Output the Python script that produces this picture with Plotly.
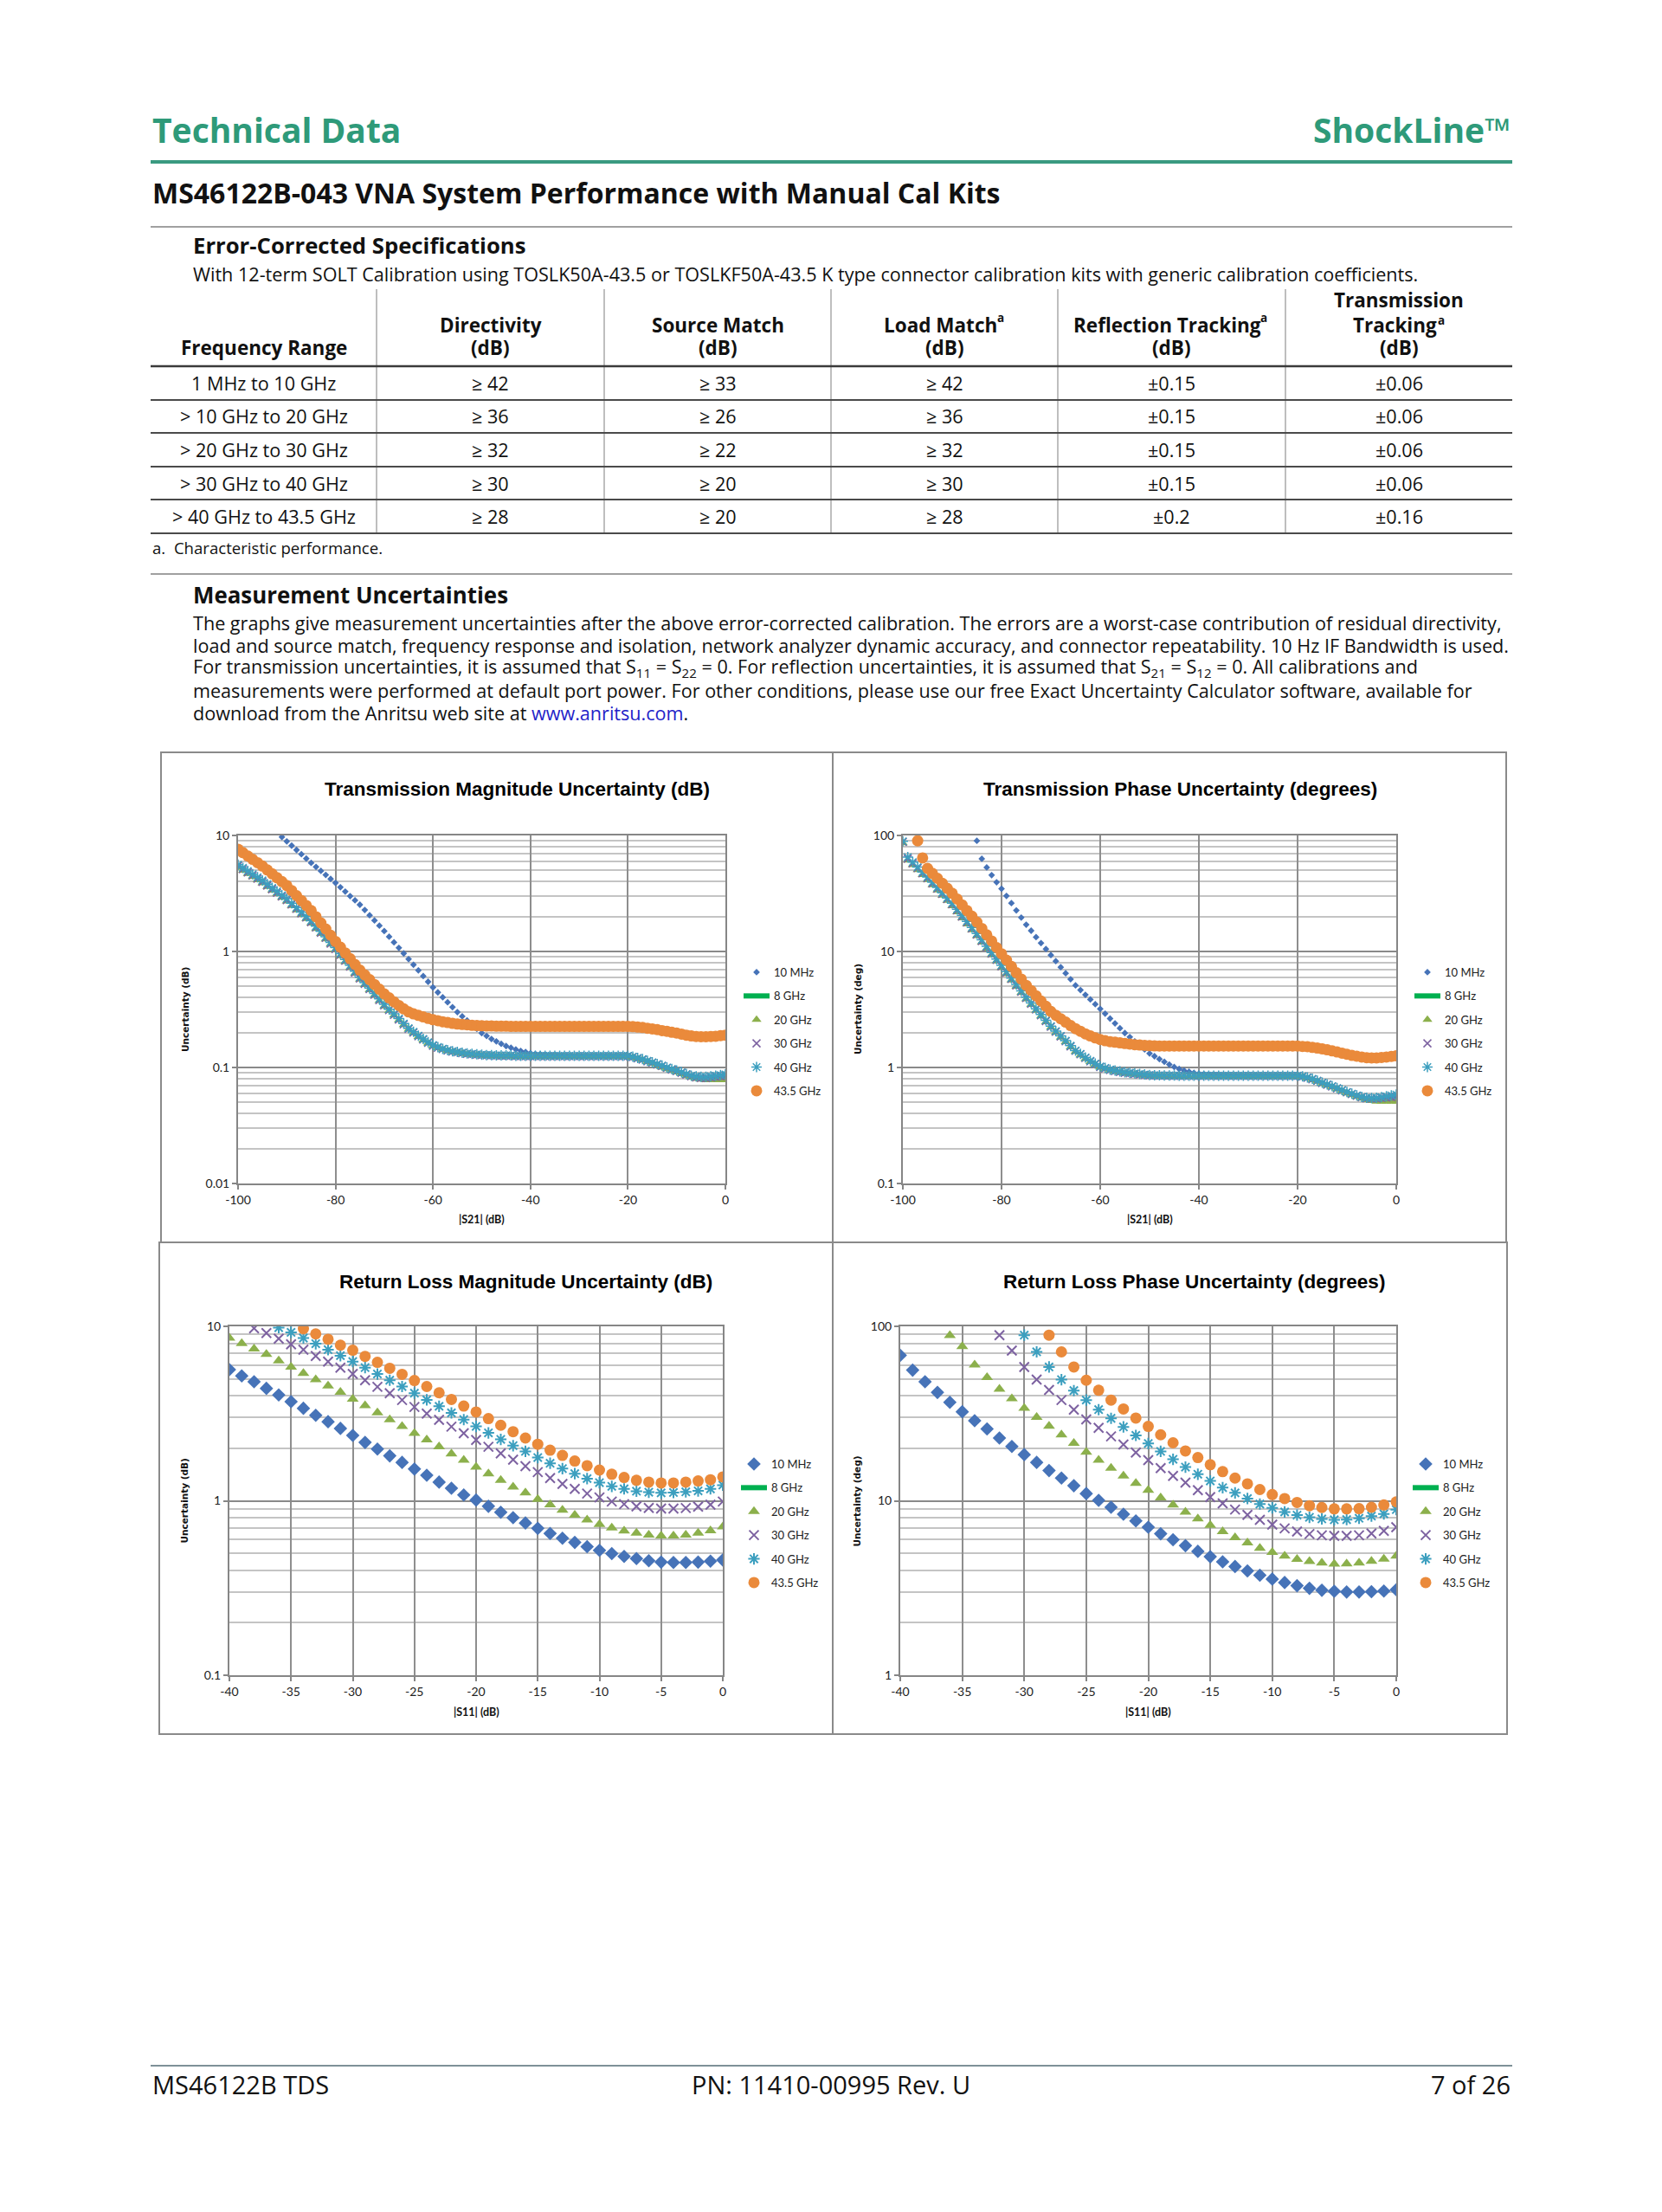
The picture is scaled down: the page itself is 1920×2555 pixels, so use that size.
import plotly.graph_objects as go

W, H = 1920, 2555          # page size
OFF = 8                    # browser body margin
FW, FH = W - 2 * OFF, H - 2 * OFF   # figure size so that the page is exactly W x H

# ---------------- data ----------------
freq_labels = ["10 MHz", "8 GHz", "20 GHz", "30 GHz", "40 GHz", "43.5 GHz"]

trans_xticks = [-100, -80, -60, -40, -20, 0]
refl_xticks = [-40, -35, -30, -25, -20, -15, -10, -5, 0]

# Transmission magnitude uncertainty (dB) vs |S21| (dB)
tm_x = list(range(-100, 1))
tm_x_10mhz = list(range(-91, 1))
tm_10mhz = [9.70, 8.90, 8.17, 7.50, 6.89, 6.32, 5.80,
            5.36, 4.95, 4.57, 4.22, 3.90,
            3.58, 3.28, 3.00, 2.76, 2.53,
            2.28, 2.05, 1.85, 1.67, 1.50,
            1.34, 1.20, 1.075, 0.962, 0.860,
            0.769, 0.687, 0.614, 0.548, 0.490,
            0.444, 0.403, 0.365, 0.331, 0.300,
            0.276, 0.254, 0.234, 0.215, 0.198,
            0.187, 0.176, 0.168, 0.160, 0.153,
            0.148, 0.143, 0.139, 0.136, 0.133,
            0.131, 0.130, 0.129, 0.128, 0.128, 0.127, 0.127, 0.126, 0.126, 0.126,
            0.126, 0.126, 0.126, 0.126, 0.126, 0.126, 0.126, 0.126, 0.126,
            0.125, 0.123, 0.120, 0.117, 0.113, 0.110, 0.106, 0.103, 0.099, 0.096, 0.093,
            0.090, 0.087, 0.084, 0.082, 0.081, 0.081, 0.082, 0.082, 0.083, 0.084]
tm_20ghz = [5.30, 4.98, 4.68, 4.40, 4.13, 3.88,
            3.61, 3.36, 3.13, 2.91, 2.71,
            2.48, 2.27, 2.08, 1.91, 1.75,
            1.57, 1.42, 1.28, 1.15, 1.03,
            0.915, 0.815, 0.725, 0.645, 0.574,
            0.517, 0.465, 0.418, 0.376, 0.338,
            0.308, 0.281, 0.256, 0.233, 0.213,
            0.198, 0.184, 0.172, 0.162, 0.153,
            0.147, 0.143, 0.139, 0.136, 0.134, 0.132, 0.130, 0.129, 0.128, 0.127,
            0.126, 0.126, 0.125, 0.125, 0.125, 0.125, 0.124, 0.124, 0.124, 0.124,
            0.124, 0.124, 0.124, 0.124, 0.124, 0.124, 0.124, 0.124, 0.124, 0.124,
            0.124, 0.124, 0.124, 0.124, 0.124, 0.124, 0.124, 0.124, 0.124,
            0.124, 0.122, 0.119, 0.116, 0.112, 0.108, 0.104, 0.100, 0.097, 0.094,
            0.091, 0.088, 0.085, 0.082, 0.080, 0.079, 0.078, 0.078, 0.078, 0.078, 0.078]
tm_30ghz = [5.45, 5.11, 4.80, 4.51, 4.24, 3.98,
            3.70, 3.44, 3.20, 2.98, 2.77,
            2.54, 2.33, 2.13, 1.96, 1.79,
            1.61, 1.45, 1.31, 1.17, 1.05,
            0.935, 0.832, 0.740, 0.658, 0.585,
            0.526, 0.473, 0.424, 0.381, 0.343,
            0.312, 0.284, 0.259, 0.235, 0.215,
            0.200, 0.186, 0.174, 0.163, 0.154,
            0.148, 0.144, 0.140, 0.137, 0.135, 0.133, 0.131, 0.130, 0.129, 0.128,
            0.127, 0.127, 0.126, 0.126, 0.126, 0.126, 0.125, 0.125, 0.125, 0.125,
            0.125, 0.125, 0.125, 0.125, 0.125, 0.125, 0.125, 0.125, 0.125, 0.125,
            0.125, 0.125, 0.125, 0.125, 0.125, 0.125, 0.125, 0.125, 0.125,
            0.125, 0.123, 0.120, 0.117, 0.113, 0.110, 0.106, 0.103, 0.099, 0.096,
            0.093, 0.090, 0.087, 0.084, 0.082, 0.081, 0.081, 0.082, 0.083, 0.084, 0.085]
tm_40ghz = [5.60, 5.26, 4.94, 4.64, 4.36, 4.10,
            3.81, 3.54, 3.30, 3.06, 2.85,
            2.61, 2.39, 2.19, 2.01, 1.84,
            1.65, 1.49, 1.34, 1.20, 1.08,
            0.960, 0.854, 0.759, 0.675, 0.600,
            0.539, 0.484, 0.434, 0.390, 0.350,
            0.318, 0.290, 0.264, 0.239, 0.218,
            0.203, 0.188, 0.176, 0.165, 0.156,
            0.150, 0.145, 0.141, 0.138, 0.136, 0.134, 0.132, 0.131, 0.130, 0.129,
            0.128, 0.128, 0.127, 0.127, 0.127, 0.127, 0.126, 0.126, 0.126, 0.126,
            0.126, 0.126, 0.126, 0.126, 0.126, 0.126, 0.126, 0.126, 0.126, 0.126,
            0.126, 0.126, 0.126, 0.126, 0.126, 0.126, 0.126, 0.126, 0.126,
            0.126, 0.124, 0.121, 0.118, 0.114, 0.111, 0.107, 0.104, 0.100, 0.097,
            0.094, 0.091, 0.088, 0.085, 0.084, 0.083, 0.083, 0.084, 0.085, 0.086, 0.087]
tm_435ghz = [7.60, 7.11, 6.65, 6.23, 5.83, 5.45,
             5.04, 4.67, 4.32, 4.00, 3.70,
             3.35, 3.03, 2.75, 2.49, 2.25,
             1.99, 1.76, 1.56, 1.38, 1.22,
             1.09, 0.971, 0.866, 0.773, 0.690,
             0.628, 0.571, 0.519, 0.473, 0.430,
             0.398, 0.368, 0.342, 0.320, 0.301,
             0.290, 0.281, 0.273, 0.265, 0.258,
             0.253, 0.248, 0.244, 0.240, 0.237, 0.235, 0.233, 0.231, 0.230, 0.229,
             0.228, 0.228, 0.227, 0.227, 0.227, 0.226, 0.226, 0.226, 0.226, 0.226,
             0.226, 0.226, 0.226, 0.226, 0.226, 0.226, 0.226, 0.226, 0.226, 0.226,
             0.226, 0.226, 0.226, 0.226, 0.226, 0.226, 0.226, 0.226, 0.226,
             0.226, 0.225, 0.223, 0.221, 0.218, 0.215, 0.212, 0.208, 0.205, 0.201,
             0.198, 0.194, 0.190, 0.187, 0.185, 0.184, 0.184, 0.185, 0.186, 0.188, 0.190]

# Transmission phase uncertainty (degrees) vs |S21| (dB)
tp_x = list(range(-100, 1))
tp_x_10mhz = list(range(-85, 1))
tp_x_435ghz = list(range(-97, 1))
tp_10mhz = [90, 63, 53, 45.5, 39.5, 34.7,
            30.1, 26.1, 22.6, 19.6, 17.0,
            15.1, 13.3, 11.8, 10.5, 9.30,
            8.25, 7.32, 6.49, 5.76, 5.10,
            4.65, 4.23, 3.86, 3.51, 3.20,
            2.91, 2.64, 2.40, 2.18, 1.98,
            1.83, 1.68, 1.55, 1.43, 1.32,
            1.25, 1.18, 1.12, 1.06, 1.01,
            0.97, 0.94, 0.92, 0.90, 0.885,
            0.875, 0.868, 0.862, 0.858, 0.855, 0.853, 0.852, 0.851, 0.850, 0.850,
            0.850, 0.850, 0.850, 0.850, 0.850, 0.850, 0.850, 0.850, 0.850,
            0.850, 0.835, 0.815, 0.790, 0.765, 0.735, 0.710, 0.685, 0.660, 0.635, 0.610,
            0.590, 0.570, 0.552, 0.540, 0.535, 0.535, 0.540, 0.545, 0.550, 0.555]
tp_20ghz = [86, 61, 55.8, 50.6, 45.8, 41.5,
            37.4, 33.7, 30.4, 27.4, 24.7,
            21.9, 19.4, 17.2, 15.3, 13.6,
            12.0, 10.6, 9.33, 8.23, 7.26,
            6.41, 5.65, 4.98, 4.40, 3.89,
            3.47, 3.10, 2.77, 2.47, 2.21,
            2.00, 1.82, 1.66, 1.50, 1.37,
            1.28, 1.19, 1.12, 1.06, 1.00,
            0.970, 0.940, 0.920, 0.905, 0.890, 0.880, 0.870, 0.860, 0.852, 0.846,
            0.843, 0.841, 0.840, 0.839, 0.838, 0.837, 0.836, 0.836, 0.836, 0.836,
            0.836, 0.836, 0.836, 0.836, 0.836, 0.836, 0.836, 0.836, 0.836, 0.836,
            0.836, 0.836, 0.836, 0.836, 0.836, 0.836, 0.836, 0.836, 0.836,
            0.836, 0.826, 0.806, 0.780, 0.755, 0.725, 0.700, 0.675, 0.650, 0.625,
            0.600, 0.580, 0.560, 0.540, 0.525, 0.515, 0.510, 0.510, 0.510, 0.510, 0.510]
tp_30ghz = [88, 63, 57.5, 52.2, 47.2, 42.8,
            38.6, 34.8, 31.4, 28.3, 25.5,
            22.6, 20.0, 17.8, 15.8, 14.0,
            12.3, 10.9, 9.58, 8.45, 7.45,
            6.57, 5.79, 5.10, 4.50, 3.97,
            3.54, 3.16, 2.82, 2.51, 2.24,
            2.03, 1.85, 1.68, 1.52, 1.39,
            1.30, 1.21, 1.13, 1.07, 1.01,
            0.980, 0.950, 0.930, 0.915, 0.900, 0.890, 0.880, 0.870, 0.860, 0.855,
            0.852, 0.850, 0.849, 0.848, 0.847, 0.846, 0.845, 0.845, 0.845, 0.845,
            0.845, 0.845, 0.845, 0.845, 0.845, 0.845, 0.845, 0.845, 0.845, 0.845,
            0.845, 0.845, 0.845, 0.845, 0.845, 0.845, 0.845, 0.845, 0.845,
            0.845, 0.835, 0.815, 0.790, 0.765, 0.735, 0.710, 0.685, 0.660, 0.635,
            0.610, 0.590, 0.570, 0.553, 0.542, 0.538, 0.540, 0.545, 0.550, 0.555, 0.560]
tp_40ghz = [89, 65, 58.9, 53.4, 48.3, 43.8,
            39.5, 35.6, 32.1, 28.9, 26.1,
            23.1, 20.5, 18.2, 16.1, 14.3,
            12.6, 11.1, 9.78, 8.62, 7.60,
            6.70, 5.90, 5.20, 4.58, 4.04,
            3.60, 3.21, 2.86, 2.55, 2.27,
            2.06, 1.87, 1.70, 1.54, 1.40,
            1.31, 1.22, 1.14, 1.08, 1.02,
            0.990, 0.960, 0.940, 0.925, 0.910, 0.900, 0.890, 0.880, 0.870, 0.860,
            0.857, 0.855, 0.854, 0.853, 0.852, 0.851, 0.850, 0.850, 0.850, 0.850,
            0.850, 0.850, 0.850, 0.850, 0.850, 0.850, 0.850, 0.850, 0.850, 0.850,
            0.850, 0.850, 0.850, 0.850, 0.850, 0.850, 0.850, 0.850, 0.850,
            0.850, 0.840, 0.820, 0.800, 0.770, 0.740, 0.715, 0.690, 0.665, 0.640,
            0.615, 0.595, 0.575, 0.558, 0.547, 0.545, 0.548, 0.555, 0.565, 0.575, 0.585]
tp_435ghz = [90, 64, 52,
             47.1, 42.7, 38.7, 35.0, 31.7,
             28.3, 25.2, 22.5, 20.1, 17.9,
             15.8, 13.9, 12.3, 10.8, 9.55,
             8.42, 7.43, 6.55, 5.78, 5.10,
             4.60, 4.15, 3.74, 3.37, 3.04,
             2.82, 2.63, 2.46, 2.30, 2.16,
             2.05, 1.95, 1.87, 1.80, 1.74,
             1.70, 1.67, 1.65, 1.63, 1.61,
             1.59, 1.57, 1.56, 1.55, 1.54,
             1.535, 1.533, 1.531, 1.530, 1.530, 1.530, 1.530, 1.530, 1.530, 1.530,
             1.530, 1.530, 1.530, 1.530, 1.530, 1.530, 1.530, 1.530, 1.530, 1.530,
             1.530, 1.530, 1.530, 1.530, 1.530, 1.530, 1.530, 1.530, 1.530,
             1.530, 1.520, 1.510, 1.490, 1.470, 1.445, 1.420, 1.390, 1.360, 1.330,
             1.300, 1.270, 1.250, 1.230, 1.215, 1.210, 1.210, 1.220, 1.230, 1.245, 1.260]

# Return loss magnitude uncertainty (dB) vs |S11| (dB)
rm_x = list(range(-40, 1))
rm_x_30ghz = list(range(-38, 1))
rm_x_40ghz = list(range(-36, 1))
rm_x_435ghz = list(range(-34, 1))
rm_10mhz = [5.65, 5.20, 4.81, 4.41, 4.04, 3.70, 3.39, 3.09, 2.84, 2.60,
            2.37, 2.16, 1.98, 1.81, 1.66, 1.52, 1.40, 1.28, 1.18, 1.08,
            1.01, 0.93, 0.86, 0.80, 0.746, 0.695, 0.65, 0.61, 0.577, 0.546,
            0.52, 0.498, 0.48, 0.466, 0.453, 0.445, 0.443, 0.443, 0.445, 0.451,
            0.458]
rm_20ghz = [8.57, 7.98, 7.44, 6.91, 6.35, 5.85, 5.38, 4.95, 4.56, 4.19,
            3.83, 3.51, 3.20, 2.92, 2.67, 2.44, 2.24, 2.04, 1.86, 1.71,
            1.56, 1.43, 1.31, 1.20, 1.11, 1.02, 0.95, 0.885, 0.828, 0.778,
            0.733, 0.70, 0.672, 0.653, 0.637, 0.63, 0.63, 0.637, 0.653, 0.674,
            0.71]
rm_30ghz = [9.75, 9.16, 8.5, 7.89, 7.35, 6.76, 6.28, 5.80, 5.33, 4.91,
            4.50, 4.14, 3.78, 3.45, 3.16, 2.91, 2.66, 2.44, 2.23, 2.04,
            1.87, 1.72, 1.58, 1.46, 1.35, 1.25, 1.17, 1.10, 1.045, 0.99,
            0.957, 0.929, 0.91, 0.903, 0.903, 0.909, 0.925, 0.949, 0.99]
rm_40ghz = [9.83, 9.24, 8.57, 7.95, 7.35, 6.79, 6.28, 5.80, 5.33, 4.91,
            4.52, 4.14, 3.79, 3.48, 3.19, 2.92, 2.67, 2.45, 2.25, 2.07,
            1.92, 1.77, 1.64, 1.53, 1.43, 1.34, 1.27, 1.21, 1.17, 1.135,
            1.12, 1.11, 1.115, 1.125, 1.14, 1.17, 1.23]
rm_435ghz = [9.7, 9.05, 8.43, 7.8, 7.3, 6.73, 6.22, 5.75, 5.31, 4.89,
             4.52, 4.16, 3.81, 3.49, 3.23, 2.96, 2.71, 2.49, 2.29, 2.11,
             1.95, 1.82, 1.69, 1.59, 1.50, 1.42, 1.36, 1.31, 1.28, 1.265,
             1.265, 1.28, 1.30, 1.32, 1.37]

# Return loss phase uncertainty (degrees) vs |S11| (dB)
rp_x = list(range(-40, 1))
rp_x_20ghz = list(range(-36, 1))
rp_x_30ghz = list(range(-32, 1))
rp_x_40ghz = list(range(-30, 1))
rp_x_435ghz = list(range(-28, 1))
rp_10mhz = [68.2, 56.1, 48.1, 41.8, 36.7, 32.4, 28.8, 25.8, 22.9, 20.5,
            18.4, 16.6, 14.9, 13.5, 12.2, 11.0, 10.05, 9.18, 8.38, 7.67,
            7.06, 6.47, 5.98, 5.53, 5.13, 4.78, 4.47, 4.20, 3.96, 3.74,
            3.56, 3.40, 3.26, 3.15, 3.07, 3.03, 3.00, 3.00, 3.01, 3.04,
            3.09]
rp_20ghz = [88.7, 76.6, 60.2, 51.0, 43.7, 38.5, 34.0, 30.1, 26.8, 23.9,
            21.4, 19.0, 17.1, 15.4, 13.9, 12.6, 11.5, 10.4, 9.46, 8.63,
            7.88, 7.25, 6.67, 6.16, 5.74, 5.35, 5.07, 4.82, 4.62, 4.49,
            4.40, 4.34, 4.36, 4.40, 4.51, 4.64, 4.82]
rp_30ghz = [89, 72.6, 58.5, 49.5, 43.2, 37.8, 33.3, 29.3, 26.2, 23.4,
            21.0, 18.9, 17.1, 15.4, 13.9, 12.7, 11.5, 10.5, 9.66, 8.91,
            8.31, 7.78, 7.31, 6.95, 6.67, 6.45, 6.34, 6.29, 6.29, 6.34,
            6.50, 6.72, 7.06]
rp_40ghz = [89, 71.4, 58.5, 49.5, 42.8, 37.8, 33.3, 29.7, 26.5, 23.7,
            21.3, 19.2, 17.3, 15.6, 14.2, 13.0, 11.9, 11.1, 10.3, 9.58,
            9.11, 8.63, 8.28, 8.04, 7.87, 7.78, 7.80, 7.94, 8.17, 8.41,
            8.90]
rp_435ghz = [89, 71.4, 58.5, 49.1, 43.0, 37.8, 33.6, 29.8, 26.7, 23.9,
             21.5, 19.3, 17.7, 16.1, 14.7, 13.5, 12.5, 11.6, 10.85, 10.3,
             9.78, 9.37, 9.15, 8.99, 8.99, 9.02, 9.18, 9.46, 9.86]

# Specification table (header lines listed top to bottom; "a" marks a footnote reference)
table_columns = [[("Frequency Range", "")],
                 [("Directivity", ""), ("(dB)", "")],
                 [("Source Match", ""), ("(dB)", "")],
                 [("Load Match", "a"), ("(dB)", "")],
                 [("Reflection Tracking", "a"), ("(dB)", "")],
                 [("Transmission", ""), ("Tracking", "a"), ("(dB)", "")]]
freq_ranges = ["1 MHz to 10 GHz", "> 10 GHz to 20 GHz", "> 20 GHz to 30 GHz",
               "> 30 GHz to 40 GHz", "> 40 GHz to 43.5 GHz"]
directivity = ["≥ 42", "≥ 36", "≥ 32", "≥ 30", "≥ 28"]
source_match = ["≥ 33", "≥ 26", "≥ 22", "≥ 20", "≥ 20"]
load_match = ["≥ 42", "≥ 36", "≥ 32", "≥ 30", "≥ 28"]
refl_tracking = ["±0.15", "±0.15", "±0.15", "±0.15", "±0.2"]
trans_tracking = ["±0.06", "±0.06", "±0.06", "±0.06", "±0.16"]

# ---------------- helpers (page pixel -> paper) ----------------
def PX(x):
    return (x - OFF) / FW


def PY(y):
    return 1 - (y - OFF) / FH


FONT = "Open Sans"
GREEN_HDR = "#2E9A79"
annotations = []
shapes = []


def text(x, y, s, size, color="#111111", anchor="left", bold=False, family=FONT, yanchor="middle", angle=0):
    annotations.append(dict(x=PX(x), y=PY(y), xref="paper", yref="paper", text=(f"<b>{s}</b>" if bold else s),
                            showarrow=False, xanchor=anchor, yanchor=yanchor, textangle=angle,
                            font=dict(family=family, size=size, color=color)))


def hline(x0, x1, y, color, width):
    shapes.append(dict(type="line", xref="paper", yref="paper", x0=PX(x0), x1=PX(x1), y0=PY(y), y1=PY(y),
                       line=dict(color=color, width=width)))


def vline(x, y0, y1, color, width):
    shapes.append(dict(type="line", xref="paper", yref="paper", x0=PX(x), x1=PX(x), y0=PY(y0), y1=PY(y1),
                       line=dict(color=color, width=width)))


def rect(x0, y0, x1, y1, color, width):
    shapes.append(dict(type="rect", xref="paper", yref="paper", x0=PX(x0), x1=PX(x1), y0=PY(y1), y1=PY(y0),
                       line=dict(color=color, width=width), fillcolor="rgba(0,0,0,0)"))


# ---------------- page header / text ----------------
L, R = 174, 1747
text(L, 149, "Technical Data", 39, color=GREEN_HDR, bold=True)
text(R, 149, "ShockLine™", 39, color=GREEN_HDR, bold=True, anchor="right")
hline(L, R, 187, "#3A9A80", 4)
text(L, 223, "MS46122B-043 VNA System Performance with Manual Cal Kits", 32, bold=True)
hline(L, R, 262, "#A0A0A0", 2)
text(221, 283, "Error-Corrected Specifications", 25.7, bold=True)
text(221, 316, "With 12-term SOLT Calibration using TOSLK50A-43.5 or TOSLKF50A-43.5 K type connector "
               "calibration kits with generic calibration coefficients.", 21.6)

# table
col_edges = [L, 435, 698, 960, 1222, 1485, R]
header_line_y = [401, 375, 347]          # bottom line first
half_width = {"Load Match": 63, "Reflection Tracking": 104, "Tracking": 47}
for ci, lines in enumerate(table_columns):
    cx = (col_edges[ci] + col_edges[ci + 1]) / 2
    for k, (s, note) in enumerate(reversed(lines)):
        y = header_line_y[k]
        if note:
            tx = cx - 5
            text(tx, y, s, 22.5, bold=True, anchor="center")
            dy = 5 if len(lines) == 3 else 8
            text(tx + half_width[s] + 1, y - dy, note, 13.5, bold=True, anchor="left")
        else:
            text(cx, y, s, 22.5, bold=True, anchor="center")
row_lines = [423, 462, 500, 539, 577, 616]
table_cols = [freq_ranges, directivity, source_match, load_match, refl_tracking, trans_tracking]
for ri in range(len(freq_ranges)):
    cy = (row_lines[ri] + row_lines[ri + 1]) / 2
    for ci, col in enumerate(table_cols):
        cx = (col_edges[ci] + col_edges[ci + 1]) / 2
        text(cx, cy, col[ri], 21.6, anchor="center")
for x in col_edges[1:-1]:
    vline(x, 334, 616, "#A8A8A8", 1.5)
hline(L, R, 423, "#3A3A3A", 2.5)
for y in row_lines[1:]:
    hline(L, R, y, "#4A4A4A", 2)
text(L, 632, "a.  Characteristic performance.", 18.6)

hline(L, R, 663, "#A0A0A0", 2)
text(221, 687, "Measurement Uncertainties", 25.9, bold=True)
para = [
    "The graphs give measurement uncertainties after the above error-corrected calibration. The errors are a "
    "worst-case contribution of residual directivity,",
    "load and source match, frequency response and isolation, network analyzer dynamic accuracy, and connector "
    "repeatability. 10 Hz IF Bandwidth is used.",
    "For transmission uncertainties, it is assumed that S<sub>11</sub> = S<sub>22</sub> = 0. For reflection "
    "uncertainties, it is assumed that S<sub>21</sub> = S<sub>12</sub> = 0. All calibrations and",
    "measurements were performed at default port power. For other conditions, please use our free Exact "
    "Uncertainty Calculator software, available for",
    "download from the Anritsu web site at <span style='color:#2323C8'>www.anritsu.com</span>.",
]
for i, s in enumerate(para):
    text(221, 719 + 26 * i, s, 21.6)

# footer
hline(L, R, 2386, "#7E9098", 2)
text(L, 2407, "MS46122B TDS", 29)
text(960, 2407, "PN: 11410-00995 Rev. U", 29, anchor="center")
text(R, 2407, "7 of 26", 29, anchor="right")

# chart boxes
rect(186, 869, 962, 1435, "#8A8A8A", 2)
rect(962, 869, 1740, 1435, "#8A8A8A", 2)
rect(184, 1435, 962, 2003, "#8A8A8A", 2)
rect(962, 1435, 1741, 2003, "#8A8A8A", 2)

# ---------------- charts ----------------
BLUE, LGREEN, GREEN, PURPLE, TEAL, ORANGE = "#4673B8", "#00B050", "#8CB04C", "#7D62A1", "#3C9FBF", "#EA8A3B"
styles = {"10 MHz": ("diamond", BLUE), "20 GHz": ("triangle-up", GREEN), "30 GHz": ("x-thin-open", PURPLE),
          "40 GHz": ("asterisk-open", TEAL), "43.5 GHz": ("circle", ORANGE)}
dense_sizes = {"10 MHz": 6, "20 GHz": 10, "30 GHz": 9, "40 GHz": 10, "43.5 GHz": 13}
sparse_sizes = {"10 MHz": 12, "20 GHz": 12, "30 GHz": 11, "40 GHz": 11, "43.5 GHz": 13}

charts = [
    dict(title="Transmission Magnitude Uncertainty (dB)", ytitle="Uncertainty (dB)", xtitle="|S21| (dB)",
         px=(275, 838), py=(965, 1367), xr=(-100, 0), yr=(-2, 1), xt=trans_xticks, dense=True,
         tpos=(597, 911), ytx=214, xty=1408, leg=(854, 1108),
         series=[(tm_x_10mhz, tm_10mhz), None, (tm_x, tm_20ghz), (tm_x, tm_30ghz), (tm_x, tm_40ghz),
                 (tm_x, tm_435ghz)]),
    dict(title="Transmission Phase Uncertainty (degrees)", ytitle="Uncertainty (deg)", xtitle="|S21| (dB)",
         px=(1043, 1613), py=(965, 1367), xr=(-100, 0), yr=(-1, 2), xt=trans_xticks, dense=True,
         tpos=(1363, 911), ytx=991, xty=1408, leg=(1629, 1108),
         series=[(tp_x_10mhz, tp_10mhz), None, (tp_x, tp_20ghz), (tp_x, tp_30ghz), (tp_x, tp_40ghz),
                 (tp_x_435ghz, tp_435ghz)]),
    dict(title="Return Loss Magnitude Uncertainty (dB)", ytitle="Uncertainty (dB)", xtitle="|S11| (dB)",
         px=(265, 835), py=(1532, 1935), xr=(-40, 0), yr=(-1, 1), xt=refl_xticks, dense=False,
         tpos=(607, 1480), ytx=212, xty=1977, leg=(851, 1676),
         series=[(rm_x, rm_10mhz), None, (rm_x, rm_20ghz), (rm_x_30ghz, rm_30ghz), (rm_x_40ghz, rm_40ghz),
                 (rm_x_435ghz, rm_435ghz)]),
    dict(title="Return Loss Phase Uncertainty (degrees)", ytitle="Uncertainty (deg)", xtitle="|S11| (dB)",
         px=(1040, 1613), py=(1532, 1935), xr=(-40, 0), yr=(0, 2), xt=refl_xticks, dense=False,
         tpos=(1379, 1480), ytx=989, xty=1977, leg=(1627, 1676),
         series=[(rp_x, rp_10mhz), None, (rp_x_20ghz, rp_20ghz), (rp_x_30ghz, rp_30ghz), (rp_x_40ghz, rp_40ghz),
                 (rp_x_435ghz, rp_435ghz)]),
]

fig = go.Figure()
layout_axes = {}
legends = {}
for n, c in enumerate(charts, start=1):
    sfx = "" if n == 1 else str(n)
    xa, ya, lg = f"x{sfx}", f"y{sfx}", f"legend{sfx}"
    sizes = dense_sizes if c["dense"] else sparse_sizes
    olw = 1.5 if c["dense"] else 2
    for i, name in enumerate(freq_labels):
        if c["series"][i] is None:
            fig.add_trace(go.Scatter(x=[None], y=[None], mode="lines", name=name, xaxis=xa, yaxis=ya, legend=lg,
                                     legendgroup=f"{n}{i}", line=dict(color=LGREEN, width=6), hoverinfo="skip"))
            continue
        xs, ys = c["series"][i]
        sym, col = styles[name]
        open_sym = sym.endswith("open")
        fig.add_trace(go.Scatter(
            x=xs, y=ys, mode="markers", name=name, xaxis=xa, yaxis=ya, legend=lg, legendgroup=f"{n}{i}",
            marker=dict(symbol=sym, size=sizes[name], color=col,
                        line=dict(color=col, width=olw if open_sym else 0))))
    x0, x1 = c["px"]
    y0, y1 = c["py"]
    layout_axes[f"xaxis{sfx}"] = dict(
        domain=[PX(x0), PX(x1)], range=list(c["xr"]), anchor=ya, tickmode="array", tickvals=c["xt"],
        ticktext=[str(v) for v in c["xt"]], showgrid=True, gridcolor="#8E8E8E", gridwidth=2, zeroline=False,
        showline=True, linecolor="#868686", linewidth=2, mirror=True, ticks="outside", ticklen=5,
        tickcolor="#868686", tickwidth=2, tickfont=dict(family="Lato", size=14, color="#222222"),
        fixedrange=True, automargin=False)
    layout_axes[f"yaxis{sfx}"] = dict(
        domain=[PY(y1), PY(y0)], type="log", range=list(c["yr"]), anchor=xa, dtick=1, showgrid=True,
        gridcolor="#8A8A8A", gridwidth=2, zeroline=False, showline=True, linecolor="#868686", linewidth=2,
        mirror=True, ticks="outside", ticklen=5, tickcolor="#868686", tickwidth=2,
        tickfont=dict(family="Lato", size=14, color="#222222"), fixedrange=True, automargin=False,
        minor=dict(dtick="D1", showgrid=True, gridcolor="#C4C4C4", gridwidth=2, ticks=""))
    legends[lg] = dict(x=PX(c["leg"][0]), y=PY(c["leg"][1]), xanchor="left", yanchor="top",
                       font=dict(family="Lato", size=13, color="#222222"), bgcolor="rgba(0,0,0,0)",
                       traceorder="grouped", tracegroupgap=7.5, itemsizing="trace", itemwidth=30)
    text(c["tpos"][0], c["tpos"][1], c["title"], 22.5, bold=True, family="Liberation Sans", anchor="center",
         color="#000000")
    text(c["ytx"], (y0 + y1) / 2, c["ytitle"], 10.5, bold=True, family="DejaVu Sans", anchor="center",
         angle=-90, color="#111111")
    text((x0 + x1) / 2, c["xty"], c["xtitle"], 12.5, bold=True, family="Lato", anchor="center",
         color="#111111")

fig.update_layout(width=FW, height=FH, autosize=False,
                  margin=dict(l=0, r=0, t=0, b=0, pad=0, autoexpand=False), paper_bgcolor="white",
                  plot_bgcolor="white", showlegend=True, annotations=annotations, shapes=shapes,
                  **layout_axes, **legends)

fig.write_html("out.html", config={"displayModeBar": False})
